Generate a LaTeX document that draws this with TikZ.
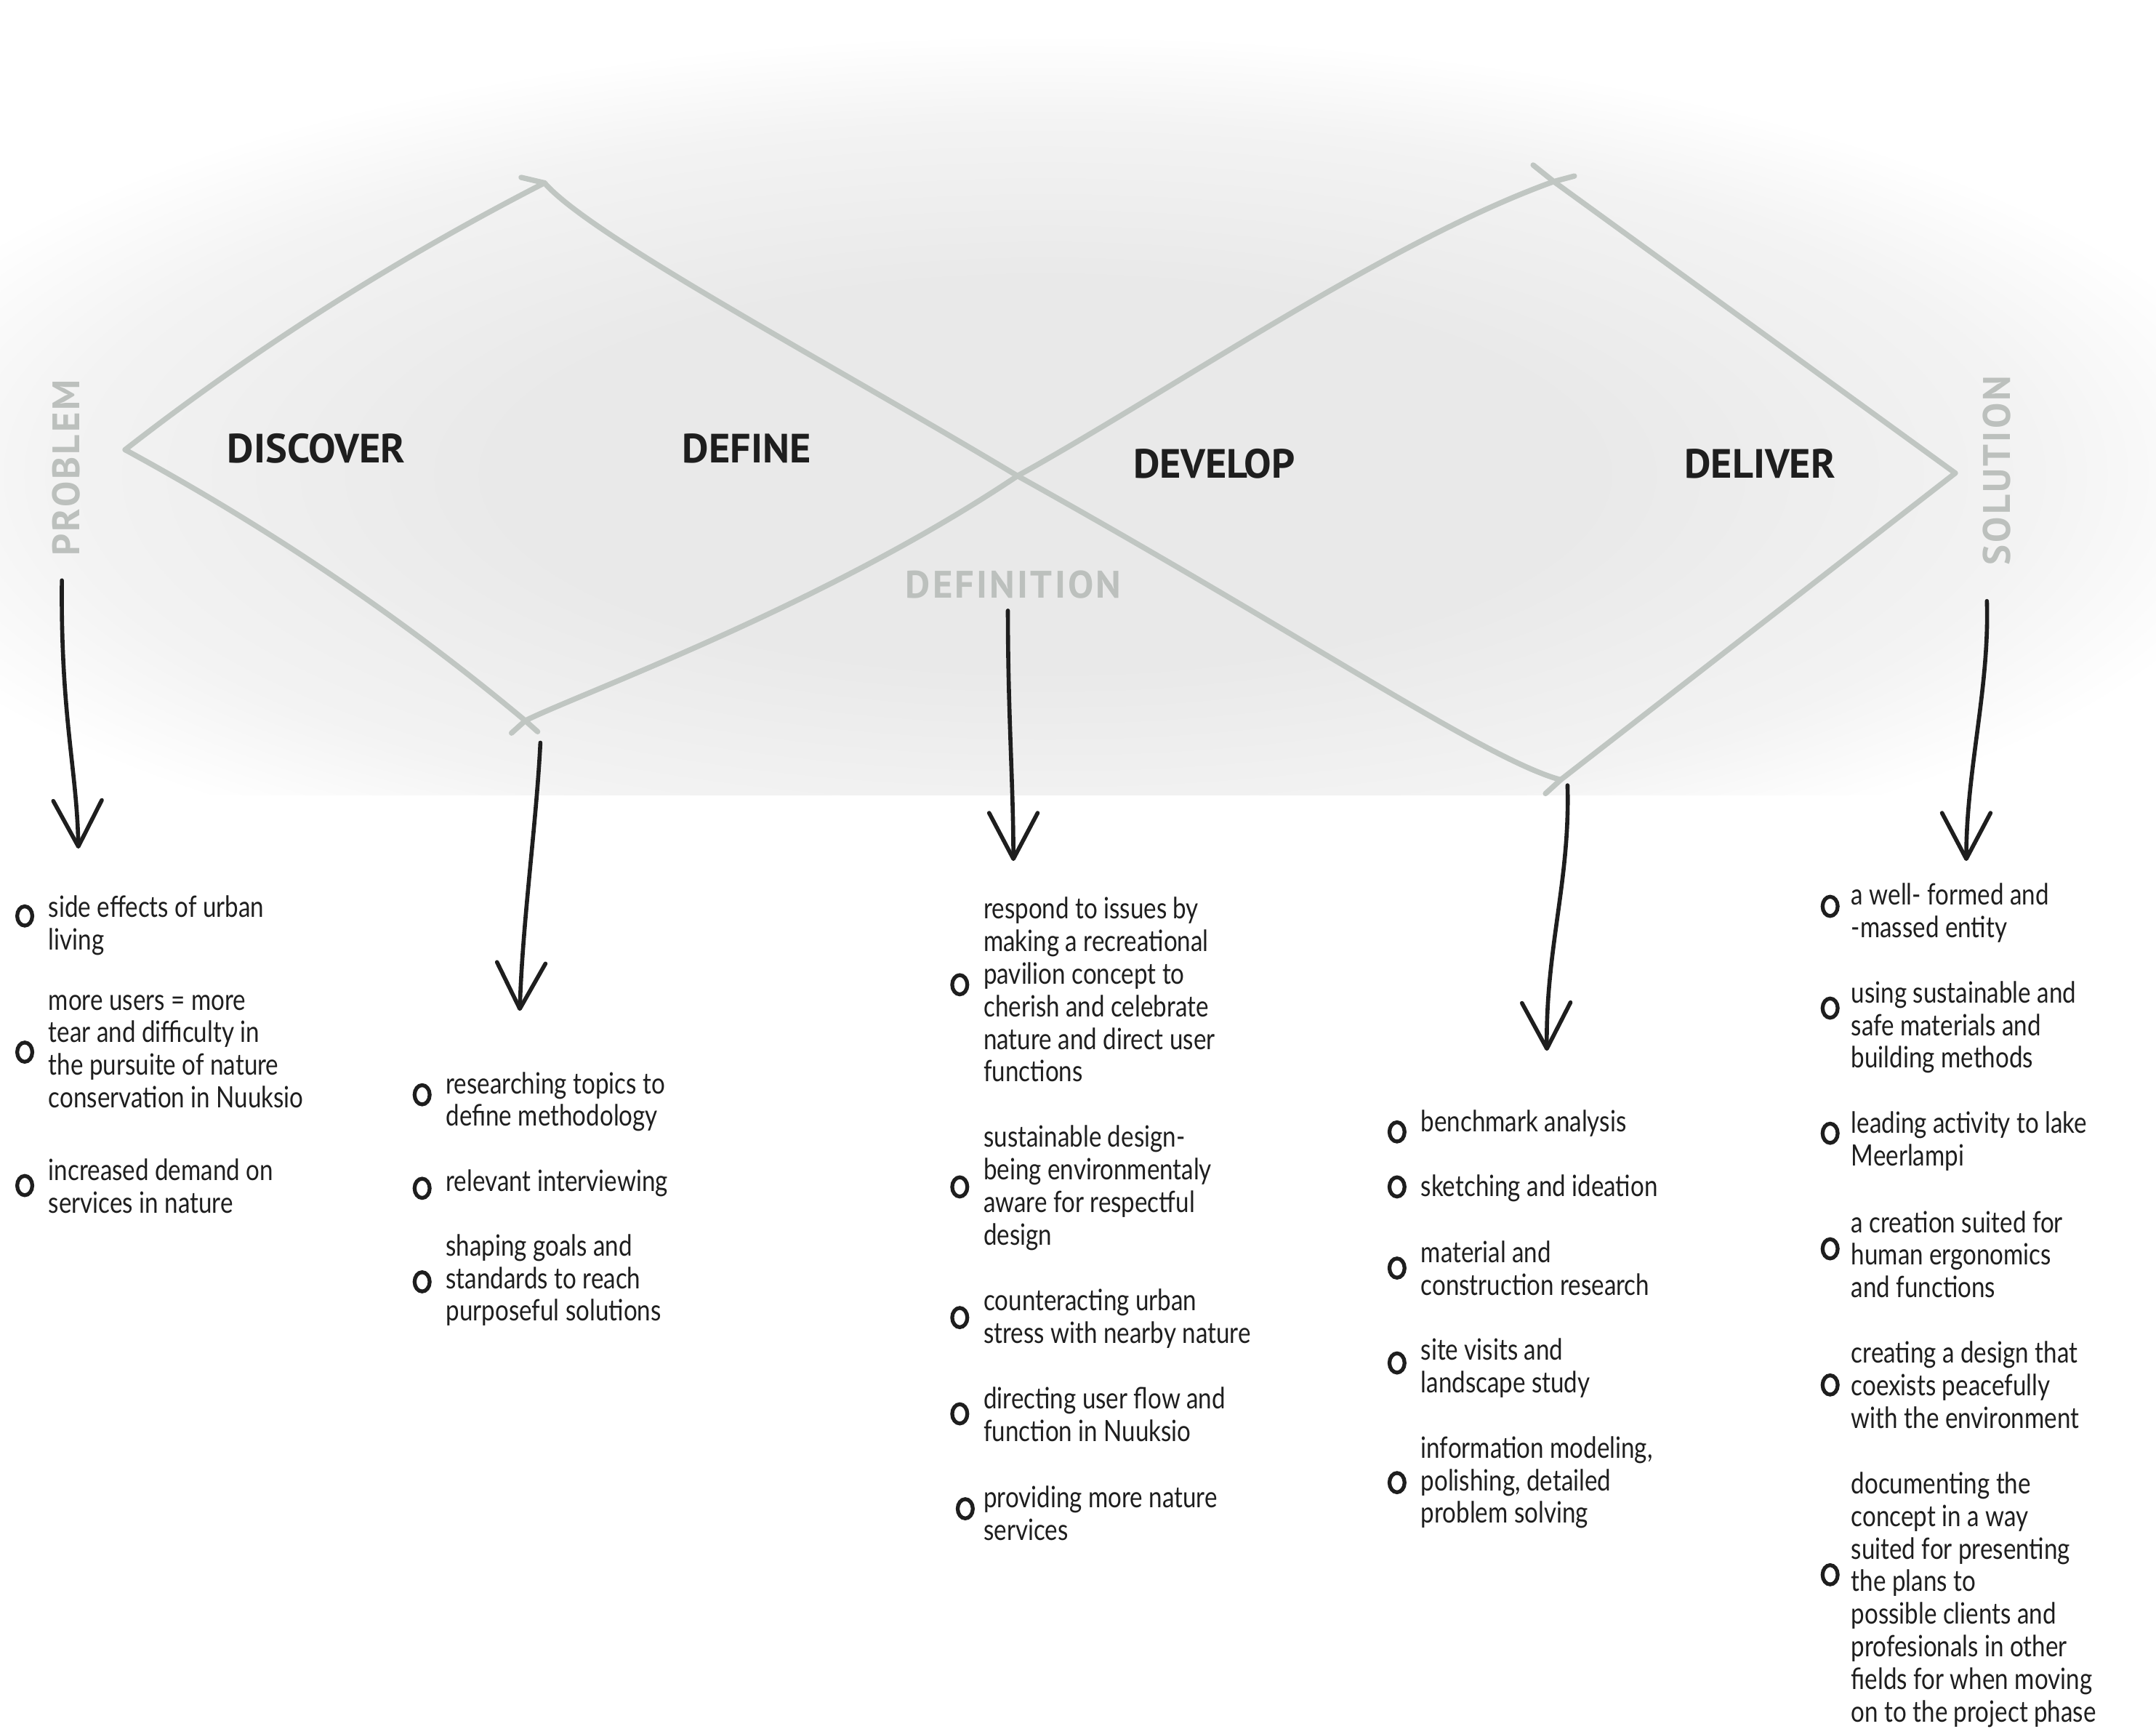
\documentclass[tikz,border=0pt]{standalone}
\usepackage{fontspec}
\usetikzlibrary{positioning}
\usetikzlibrary{arrows.meta}

\newfontfamily\bodyfont{Lato}[FakeStretch=0.82]
\newfontfamily\brushfont{PT Sans}
\newfontfamily\greyfont{PT Sans}[LetterSpace=6]

\definecolor{sketchline}{RGB}{192,198,194}
\definecolor{labelgrey}{RGB}{188,192,189}
\definecolor{bgmid}{RGB}{233,233,233}
\definecolor{bgedge}{RGB}{243,243,243}
\definecolor{inkblack}{RGB}{30,30,30}

\pgfdeclareradialshading{blob}{\pgfpoint{0bp}{0bp}}{color(0bp)=(bgmid); color(11bp)=(bgmid); color(20bp)=(bgedge); color(25bp)=(white); color(50bp)=(white)}

\tikzset{
	diamondline/.style={sketchline, line width=2.1pt, line cap=round, line join=round},
	flowarrow/.style={inkblack, line width=1.6pt, line cap=round, -{Straight Barb[length=18pt,width=19pt,round]}},
	phase/.style={font=\brushfont\bfseries\fontsize{16}{16}\selectfont, text=inkblack, inner sep=0pt},
	endlabel/.style={font=\greyfont\bfseries\fontsize{15}{15}\selectfont, text=labelgrey, inner sep=0pt},
	itemtext/.style={font=\bodyfont\fontsize{11.5}{12.76}\selectfont, text=inkblack, align=left, anchor=north west, inner sep=0pt},
	bulletring/.style={inkblack, line width=1.5pt}
}

\begin{document}
\begin{tikzpicture}
	[	x=0.018916cm,			% 1 unit = 1 px of the 1568 wide sketch
		y=-0.018916cm	]		% y grows downwards
	\useasboundingbox (0,0) rectangle (1568,1257);

	% textured grey patch behind the diamonds
	\begin{scope}
		\clip (0,0) rectangle (1568,578);
		\shade[shading=blob] (760,345) ellipse (900 and 320);
	\end{scope}

	% corners of the double diamond
	\coordinate (L1) at (91,327);
	\coordinate (T1) at (396,133);
	\coordinate (B1) at (382,524);
	\coordinate (X)  at (740,346);
	\coordinate (T2) at (1130,132);
	\coordinate (R2) at (1422,344);
	\coordinate (B2) at (1135,567);

	% first diamond
	\draw[diamondline] (L1) .. controls (186,253) and (287,189) .. (T1);
	\draw[diamondline] (T1) .. controls (430,172) and (600,262) .. (X);
	\draw[diamondline] (L1) .. controls (194,383) and (291,448) .. (B1);
	\draw[diamondline] (B1) .. controls (420,505) and (600,440) .. (X);
	% second diamond
	\draw[diamondline] (X) .. controls (850,285) and (1010,175) .. (T2);
	\draw[diamondline] (T2) -- (R2);
	\draw[diamondline] (R2) -- (B2);
	\draw[diamondline] (X) .. controls (950,463) and (1080,552) .. (B2);
	% little cross marks at the tips
	\draw[diamondline] (379,129) -- (T1);
	\draw[diamondline] (372,533) -- (B1) -- (391,532);
	\draw[diamondline] (1115,120) -- (T2) -- (1145,128);
	\draw[diamondline] (B2) -- (1124,577);

	% phase names
	\node[phase] (discover) at (230,326) {DISCOVER};
	\node[phase] (define)   at (543,326) {DEFINE};
	\node[phase] (develop)  at (883,337) {DEVELOP};
	\node[phase] (deliver)  at (1280,337) {DELIVER};

	% grey milestones
	\node[endlabel,rotate=90] (problem)    at (48,340)  {PROBLEM};
	\node[endlabel]           (definition) at (737,425) {DEFINITION};
	\node[endlabel,rotate=90] (solution)   at (1452,342) {SOLUTION};

	% arrows down to the lists
	\coordinate (a1s) at (45,422);   \coordinate (a1e) at (57,617);
	\coordinate (a2s) at (393,540);  \coordinate (a2e) at (378,735);
	\coordinate (a3s) at (733,444);  \coordinate (a3e) at (737,626);
	\coordinate (a4s) at (1140,571); \coordinate (a4e) at (1125,764);
	\coordinate (a5s) at (1445,437); \coordinate (a5e) at (1430,626);
	\draw[flowarrow] (a1s) .. controls (44,520) and (56,560) .. (a1e);
	\draw[flowarrow] (a2s) .. controls (390,600) and (380,670) .. (a2e);
	\draw[flowarrow] (a3s) .. controls (733,520) and (737,570) .. (a3e);
	\draw[flowarrow] (a4s) .. controls (1142,640) and (1124,690) .. (a4e);
	\draw[flowarrow] (a5s) .. controls (1447,500) and (1430,560) .. (a5e);

	% problem
	\node[itemtext] (p1) at (35,651) {side effects of urban\\living};
	\node[itemtext] (p2) at (35,723) {more users = more\\tear and difficulty in\\the pursuite of nature\\conservation in Nuuksio};
	\node[itemtext] (p3) at (35,842) {increased demand on\\services in nature};
	% define
	\node[itemtext] (f1) at (324,779) {researching topics to\\define methodology};
	\node[itemtext] (f2) at (324,850) {relevant interviewing};
	\node[itemtext] (f3) at (324,897) {shaping goals and\\standards to reach\\purposeful solutions};
	% definition
	\node[itemtext] (n1) at (715,652) {respond to issues by\\making a recreational\\pavilion concept to\\cherish and celebrate\\nature and direct user\\functions};
	\node[itemtext] (n2) at (715,818) {sustainable design-\\being environmentaly\\aware for respectful\\design};
	\node[itemtext] (n3) at (715,937) {counteracting urban\\stress with nearby nature};
	\node[itemtext] (n4) at (715,1008) {directing user flow and\\function in Nuuksio};
	\node[itemtext] (n5) at (715,1080) {providing more nature\\services};
	% develop
	\node[itemtext] (d1) at (1033,807) {benchmark analysis};
	\node[itemtext] (d2) at (1033,854) {sketching and ideation};
	\node[itemtext] (d3) at (1033,902) {material and\\construction research};
	\node[itemtext] (d4) at (1033,973) {site visits and\\landscape study};
	\node[itemtext] (d5) at (1033,1044) {information modeling,\\polishing, detailed\\problem solving};
	% solution
	\node[itemtext] (s1) at (1346,642) {a well- formed and\\-massed entity};
	\node[itemtext] (s2) at (1346,713) {using sustainable and\\safe materials and\\building methods};
	\node[itemtext] (s3) at (1346,808) {leading activity to lake\\Meerlampi};
	\node[itemtext] (s4) at (1346,880) {a creation suited for\\human ergonomics\\and functions};
	\node[itemtext] (s5) at (1346,975) {creating a design that\\coexists peacefully\\with the environment};
	\node[itemtext] (s6) at (1346,1070) {documenting the\\concept in a way\\suited for presenting\\the plans to\\possible clients and\\profesionals in other\\fields for when moving\\on to the project phase};

	% hand drawn bullets
	\foreach \bx/\by in {18/666,18/765,18/862,
			307/796,307/864,307/932,
			698/716,698/863,698/958,698/1028,702/1097,
			1016/823,1016/863,1016/922,1016/991,1016/1078,
			1331/659,1331/733,1331/824,1331/908,1331/1007,1331/1145}
		\draw[bulletring] (\bx,\by) ellipse (5.5 and 7);
\end{tikzpicture}
\end{document}
